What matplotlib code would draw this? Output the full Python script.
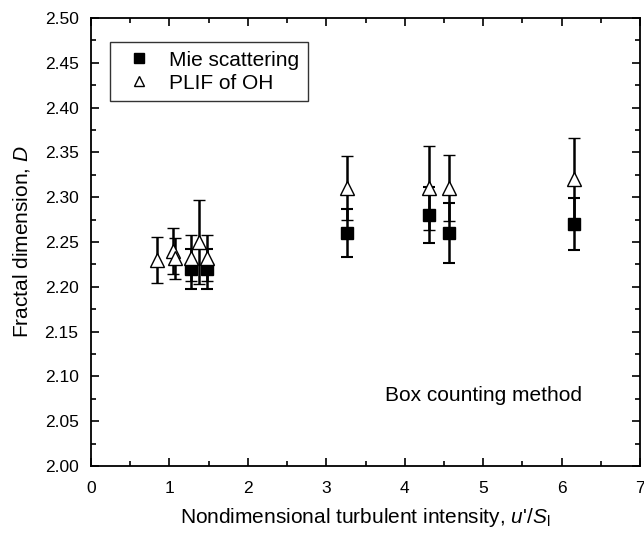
import matplotlib
matplotlib.use("Agg")
import matplotlib.pyplot as plt
from matplotlib.ticker import MultipleLocator

plt.rcParams['font.family'] = ['Liberation Sans', 'DejaVu Sans']
plt.rcParams['mathtext.fontset'] = 'custom'
plt.rcParams['mathtext.rm'] = 'Liberation Sans'
plt.rcParams['mathtext.it'] = 'Liberation Sans:italic'

# Mie scattering data
mie_u = [1.27, 1.48, 3.27, 4.31, 4.56, 6.16]
mie_D = [2.22, 2.22, 2.26, 2.28, 2.26, 2.27]
mie_err = [0.022, 0.022, 0.027, 0.031, 0.033, 0.029]

# PLIF of OH data
plif_u = [0.84, 1.05, 1.07, 1.27, 1.38, 1.48, 3.27, 4.31, 4.56, 6.16]
plif_D = [2.23, 2.24, 2.232, 2.232, 2.25, 2.232, 2.31, 2.31, 2.31, 2.32]
plif_err = [0.026, 0.026, 0.023, 0.026, 0.047, 0.026, 0.036, 0.047, 0.037, 0.046]

fig = plt.figure(figsize=(6.44, 5.33), dpi=100)
ax = fig.add_axes([91/644, (533-466)/533, 549/644, 448/533])

ax.errorbar(mie_u, mie_D, yerr=mie_err, fmt='s', color='black', ms=8.5,
            capsize=4, capthick=1.5, elinewidth=1.8, zorder=3,
            label='Mie scattering')
ax.errorbar(plif_u, plif_D, yerr=plif_err, fmt='^', color='black', mfc='white',
            mec='black', mew=1.0, ms=9.5, capsize=4, capthick=1.5, elinewidth=1.8,
            zorder=4, label='PLIF of OH')

ax.set_xlim(0, 7)
ax.set_ylim(2.00, 2.50)
ax.xaxis.set_major_locator(MultipleLocator(1))
ax.xaxis.set_minor_locator(MultipleLocator(0.5))
ax.yaxis.set_major_locator(MultipleLocator(0.05))
ax.yaxis.set_minor_locator(MultipleLocator(0.025))
ax.yaxis.set_major_formatter(matplotlib.ticker.FormatStrFormatter('%.2f'))
ax.tick_params(which='both', direction='in', top=True, right=True, width=1.2,
               labelsize=12.5)
ax.tick_params(axis='x', which='major', pad=11)
ax.tick_params(axis='y', which='major', pad=9)
ax.tick_params(which='major', length=6)
ax.tick_params(which='minor', length=3.5)
for s in ax.spines.values():
    s.set_linewidth(1.3)

ax.set_xlabel("Nondimensional turbulent intensity, $u$'/$S_\\mathrm{l}$", fontsize=15, labelpad=7)
ax.set_ylabel("Fractal dimension, $D$", fontsize=15, labelpad=9)

handles = [
    plt.Line2D([], [], marker='s', color='black', ls='none', ms=7),
    plt.Line2D([], [], marker='^', color='black', mfc='white', ls='none', ms=7),
]
leg = ax.legend(handles, ['Mie scattering', 'PLIF of OH'], loc='upper left',
                bbox_to_anchor=(0.0346, 0.946), fontsize=15, frameon=True,
                fancybox=False, edgecolor='black', handletextpad=0.45,
                borderpad=0.4, labelspacing=0.2, handlelength=2.0,
                borderaxespad=0)
leg.get_frame().set_linewidth(1.0)

ax.text(0.535, 0.158, 'Box counting method', transform=ax.transAxes,
        fontsize=15, ha='left', va='center')

fig.savefig('out.png', dpi=100)
